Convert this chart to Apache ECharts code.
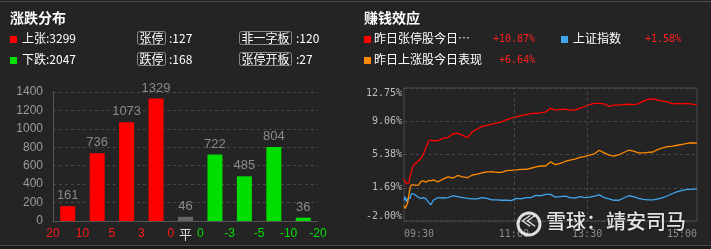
<!DOCTYPE html>
<html><head><meta charset="utf-8">
<script src="https://cdn.jsdelivr.net/npm/echarts@6/dist/echarts.min.js"></script>
<style>html,body{margin:0;padding:0;background:#242424;}#c{width:711px;height:249px;}</style>
</head><body><div id="c"></div>
<script>
// ---- left: distribution ----
const barValues = [161, 736, 1073, 1329, 46, 722, 485, 804, 36];
const barKinds = ['up','up','up','up','flat','down','down','down','down'];
const boundaryPos = [0, 1, 2, 3, 4, 4.5, 5, 6, 7, 8, 9];
const boundaryLabels = ['20', '10', '5', '3', '0', '平', '0', '-3', '-5', '-10', '-20'];
const boundaryKinds = ['up','up','up','up','up','flat','down','down','down','down','down'];
const upCount = 3299, downCount = 2047;
const limitUp = 127, limitDown = 168, yiziBoard = 120, openedBoard = 27;
// ---- right: profit effect ----
const minutes = [0,1,2,3,4,5,6,7,8,9,10,12,14,16,18,20,22,24,
  28,32,36,40,44,48,52,56,60,64,68,72,76,80,84,88,92,96,100,104,
  108,112,116,120,124,128,132,136,140,144,148,152,156,160,164,168,172,176,180,184,
  188,192,196,200,204,208,212,216,220,224,228,232,236,240];
const redVals = [2.66,2.4,2.1,1.92,2.25,3.0,3.4,3.9,4.2,4.35,4.45,4.7,4.95,5.45,6.15,6.85,6.98,6.9,
  6.92,7.2,7.25,7.65,7.75,7.5,7.25,7.9,8.2,8.5,8.6,8.75,8.85,9.0,9.25,9.4,9.55,9.7,9.8,9.9,
  9.95,10.0,10.1,10.5,10.3,10.35,10.4,10.3,10.3,10.5,10.7,10.9,11.05,11.05,11.0,10.7,10.85,10.85,10.9,10.95,
  10.9,11.0,11.3,11.5,11.55,11.4,11.3,11.2,11.0,11.05,11.0,11.05,10.95,10.87];
const orangeVals = [-0.3,-0.6,-0.67,0.0,0.9,1.74,2.0,2.1,2.0,2.0,1.95,2.0,2.4,2.45,2.3,2.5,2.45,2.55,
  2.35,2.65,2.9,2.75,3.05,2.9,2.8,3.1,3.2,3.35,3.45,3.47,3.4,3.4,3.58,3.62,3.66,3.73,3.73,3.85,
  4.0,4.1,4.1,4.55,4.25,4.4,4.6,4.75,4.85,5.05,5.15,5.3,5.45,5.85,5.55,5.3,5.2,5.35,5.6,5.85,
  5.75,5.55,5.55,5.6,5.65,5.95,6.1,6.25,6.3,6.4,6.5,6.6,6.68,6.64];
const blueVals = [0.3,0.7,0.1,0.5,0.6,0.5,1.0,1.1,1.0,0.9,0.8,0.6,0.5,0.6,0.45,0.1,-0.2,0.3,
  0.6,0.55,0.6,0.8,0.7,0.6,0.5,0.45,0.45,0.6,0.5,0.35,0.35,0.3,0.3,0.25,0.5,0.45,0.6,0.6,
  0.85,0.8,0.95,0.95,0.65,0.7,0.75,0.6,0.55,0.7,0.6,0.65,0.75,0.9,0.6,0.45,0.3,0.3,0.55,0.8,
  0.7,0.5,0.4,0.35,0.35,0.45,0.6,0.8,1.05,1.25,1.4,1.5,1.5,1.58];
const seriesNames = ['昨日张停股今日表现', '上证指数', '昨日上涨股今日表现'];
const legendShort = ['昨日张停股今日…', '上证指数', '昨日上涨股今日表现'];
const legendValues = ['+10.87%', '+1.58%', '+6.64%'];
const timeTickMinutes = [0, 90, 150, 240];
const timeTickLabels = ['09:30', '11:00', '13:30', '15:00'];
const yMin = -2.00, yMax = 12.75;

const C = { up:'#ff0000', down:'#00dd00', flat:'#666666', red:'#ff0000', blue:'#3fa6ee', orange:'#ff8a00' };
const CJK = '"Noto Sans CJK SC", sans-serif';
const MONO = '"DejaVu Sans Mono", monospace';
const labColor = { up:'#ff1a1a', down:'#00e000', flat:'#dddddd' };

const chart = echarts.init(document.getElementById('c'));
const pairs = arr => minutes.map((m, i) => [m, arr[i]]);

function boxText(x, y, txt) {
  return { type:'text', left:x, top:y, z:10, style:{ text:txt, fill:'#ffffff', font:'12px ' + CJK,
    borderColor:'#8a8a8a', borderWidth:1, borderRadius:2, padding:[1,2,0,2] } };
}
function plain(x, y, txt, color, font) {
  return { type:'text', left:x, top:y, z:10, style:{ text:txt, fill:color, font:font } };
}
function sq(x, y, color) {
  return { type:'rect', left:x, top:y, z:10, shape:{ width:7, height:7 }, style:{ fill:color } };
}

const graphics = [
  { type:'rect', left:0, top:1, z:1, shape:{ width:711, height:1 }, style:{ fill:'#4a4a4a' } },
  { type:'rect', left:0, top:245, z:1, shape:{ width:711, height:1 }, style:{ fill:'#4a4a4a' } },
  { type:'rect', left:0, top:246, z:1, shape:{ width:711, height:3 }, style:{ fill:'#1a1a1a' } },
  plain(10, 11, '涨跌分布', '#ffffff', 'bold 14px ' + CJK),
  plain(364, 11, '赚钱效应', '#ffffff', 'bold 14px ' + CJK),
  sq(10, 36, C.up), plain(22, 32, '上张:' + upCount, '#ffffff', '12px ' + CJK),
  sq(10, 57, C.down), plain(22, 53, '下跌:' + downCount, '#ffffff', '12px ' + CJK),
  boxText(137, 31, '张停'), plain(169, 32, ':' + limitUp, '#ffffff', '12px ' + CJK),
  boxText(137, 52, '跌停'), plain(169, 53, ':' + limitDown, '#ffffff', '12px ' + CJK),
  boxText(239, 31, '非一字板'), plain(296, 32, ':' + yiziBoard, '#ffffff', '12px ' + CJK),
  boxText(239, 52, '张停开板'), plain(296, 53, ':' + openedBoard, '#ffffff', '12px ' + CJK),
  sq(364, 36, C.red), plain(374, 32, legendShort[0], '#ffffff', '12px ' + CJK),
  plain(493, 34, legendValues[0], '#ff2020', '10px ' + MONO),
  sq(561, 36, C.blue), plain(573, 32, legendShort[1], '#ffffff', '12px ' + CJK),
  plain(645, 34, legendValues[1], '#ff2020', '10px ' + MONO),
  sq(364, 57, C.orange), plain(374, 53, legendShort[2], '#ffffff', '12px ' + CJK),
  plain(499, 55, legendValues[2], '#ff2020', '10px ' + MONO),
  // watermark
  { type:'circle', z:50, shape:{ cx:529, cy:224, r:11 }, style:{ fill:'none', stroke:'rgba(255,255,255,0.85)', lineWidth:3 } },
  { type:'text', z:50, left:521, top:213, style:{ text:'≪', fill:'rgba(255,255,255,0.85)', font:'bold 15px ' + CJK } },
  { type:'text', z:50, left:546, top:211, style:{ text:'雪球：靖安司马', fill:'rgba(255,255,255,0.88)', font:'500 20px ' + CJK,
    textShadowColor:'rgba(0,0,0,0.6)', textShadowBlur:2 } }
];

chart.setOption({
  backgroundColor:'#242424',
  animation:false,
  graphic: graphics,
  grid: [
    { left:53, top:92, width:265, height:129 },
    { left:404, top:88, width:293, height:133, show:true, borderColor:'#4a4a4a', borderWidth:1, backgroundColor:'transparent' }
  ],
  xAxis: [
    { type:'category', gridIndex:0, data:barValues.map((v,i)=>i), boundaryGap:true,
      axisLine:{ show:true, lineStyle:{ color:'#555' } }, axisTick:{ show:false }, axisLabel:{ show:false } },
    { type:'value', gridIndex:0, min:0, max:9, interval:0.5, position:'bottom',
      axisLine:{ show:false }, axisTick:{ show:false }, splitLine:{ show:false },
      axisLabel:{ margin:7, fontSize:12, fontFamily:CJK,
        formatter: v => { const i = boundaryPos.indexOf(v); return i < 0 ? '' : '{' + boundaryKinds[i] + '|' + boundaryLabels[i] + '}'; },
        rich:{ up:{ color:labColor.up, fontSize:12, fontFamily:'Arial, sans-serif' },
               down:{ color:labColor.down, fontSize:12, fontFamily:'Arial, sans-serif' },
               flat:{ color:labColor.flat, fontSize:13, fontFamily:CJK } } } },
    { type:'value', gridIndex:1, min:0, max:240, interval:30,
      axisLine:{ show:false }, axisTick:{ show:false }, splitLine:{ show:false },
      axisLabel:{ color:'#8c8c8c', fontFamily:MONO, fontSize:10, margin:8,
        alignMinLabel:'left', alignMaxLabel:'right',
        formatter: v => { const i = timeTickMinutes.indexOf(v); return i < 0 ? '' : timeTickLabels[i]; } } }
  ],
  yAxis: [
    { type:'value', gridIndex:0, min:0, max:1400, interval:200,
      axisLine:{ show:true, lineStyle:{ color:'#555' } }, axisTick:{ show:false },
      splitLine:{ show:true, lineStyle:{ color:'#474747', type:[3,3] } },
      axisLabel:{ color:'#9a9a9a', fontSize:12, fontFamily:'Arial, sans-serif', margin:10, formatter: v => String(v) } },
    { type:'value', gridIndex:1, min:yMin, max:yMax, interval:(yMax - yMin) / 4,
      axisLine:{ show:false }, axisTick:{ show:false },
      splitLine:{ show:true, lineStyle:{ color:'#474747', type:[3,3] } },
      axisLabel:{ color:'#bdbdbd', fontSize:10, fontFamily:MONO, margin:2,
        verticalAlignMinLabel:'bottom', verticalAlignMaxLabel:'top',
        formatter: v => v.toFixed(2) + '%' } }
  ],
  series: [
    { type:'bar', xAxisIndex:0, yAxisIndex:0, barWidth:15,
      data: barValues.map((v,i)=>({ value:v, itemStyle:{ color:C[barKinds[i]] } })),
      label:{ show:true, position:'top', distance:4, color:'#8a8a8a', fontSize:13, fontFamily:'Arial, sans-serif' } },
    { name:seriesNames[0], type:'line', xAxisIndex:2, yAxisIndex:1, data:pairs(redVals), showSymbol:false,
      lineStyle:{ color:C.red, width:1.3 }, z:4,
      markLine:{ silent:true, symbol:'none', label:{ show:false },
        lineStyle:{ color:'#4a4a4a', type:[3,3], width:1 },
        data: timeTickMinutes.slice(1, 3).map(m => ({ xAxis:m })) } },
    { name:seriesNames[2], type:'line', xAxisIndex:2, yAxisIndex:1, data:pairs(orangeVals), showSymbol:false,
      lineStyle:{ color:C.orange, width:1.3 }, z:3 },
    { name:seriesNames[1], type:'line', xAxisIndex:2, yAxisIndex:1, data:pairs(blueVals), showSymbol:false,
      lineStyle:{ color:C.blue, width:1.3 }, z:2 }
  ]
});
</script></body></html>
